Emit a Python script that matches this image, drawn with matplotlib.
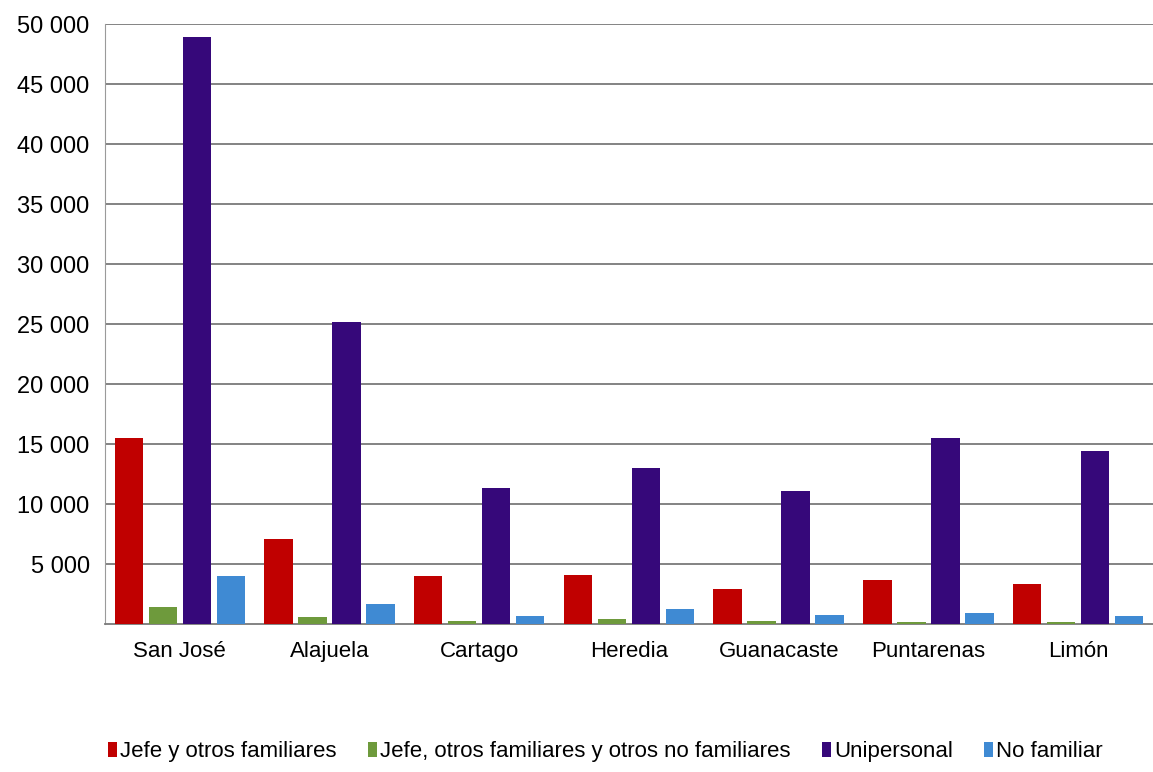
import numpy as np
import matplotlib
matplotlib.use("Agg")
import matplotlib.pyplot as plt
from matplotlib.ticker import FuncFormatter

plt.rcParams['font.family'] = ['Liberation Sans', 'DejaVu Sans']

provincias = ["San José", "Alajuela", "Cartago", "Heredia", "Guanacaste", "Puntarenas", "Limón"]
series = ["Jefe y otros familiares",
          "Jefe, otros familiares y otros no familiares",
          "Unipersonal",
          "No familiar"]

jefe_familiares = [15500, 7100, 4000, 4100, 2900, 3700, 3300]
jefe_no_familiares = [1400, 600, 250, 400, 250, 200, 150]
unipersonal = [48900, 25200, 11300, 13000, 11100, 15500, 14400]
no_familiar = [4000, 1700, 650, 1250, 750, 900, 650]

colores = ["#C00000", "#6E9A3C", "#36087A", "#3F8AD3"]
valores = [jefe_familiares, jefe_no_familiares, unipersonal, no_familiar]

fig = plt.figure(figsize=(11.53, 7.72), dpi=100)
ax = fig.add_axes([0.091, 0.1917, 0.909, 0.7772])

x = np.arange(len(provincias))
ancho = 0.19
paso = 0.227
for i, (nombre, vals, col) in enumerate(zip(series, valores, colores)):
    ax.bar(x + (i - 1.5) * paso, vals, width=ancho, color=col, label=nombre, zorder=3)

ax.set_xlim(-0.5, len(provincias) - 0.5)
ax.set_ylim(0, 50000)
ax.set_yticks(np.arange(5000, 50001, 5000))
ax.yaxis.set_major_formatter(FuncFormatter(lambda v, p: f"{int(v):,}".replace(",", " ")))
ax.set_xticks(x)
ax.set_xticklabels(provincias)
ax.tick_params(axis='x', labelsize=16, length=0, pad=12)
ax.tick_params(axis='y', labelsize=17, length=0, pad=11)

ax.grid(axis='y', color='#7a7a7a', linewidth=1.3, zorder=0)
for s in ['top', 'right']:
    ax.spines[s].set_visible(False)
ax.spines['left'].set_color('#9a9a9a')
ax.spines['bottom'].set_color('#7a7a7a')
ax.spines['bottom'].set_linewidth(1.3)

fig.legend(loc='center', bbox_to_anchor=(0.525, 0.026), ncol=4, frameon=False,
           fontsize=16, handlelength=0.4, handleheight=0.7, handletextpad=0.15,
           columnspacing=1.4)

plt.savefig("out.png", dpi=100)
plt.close()
